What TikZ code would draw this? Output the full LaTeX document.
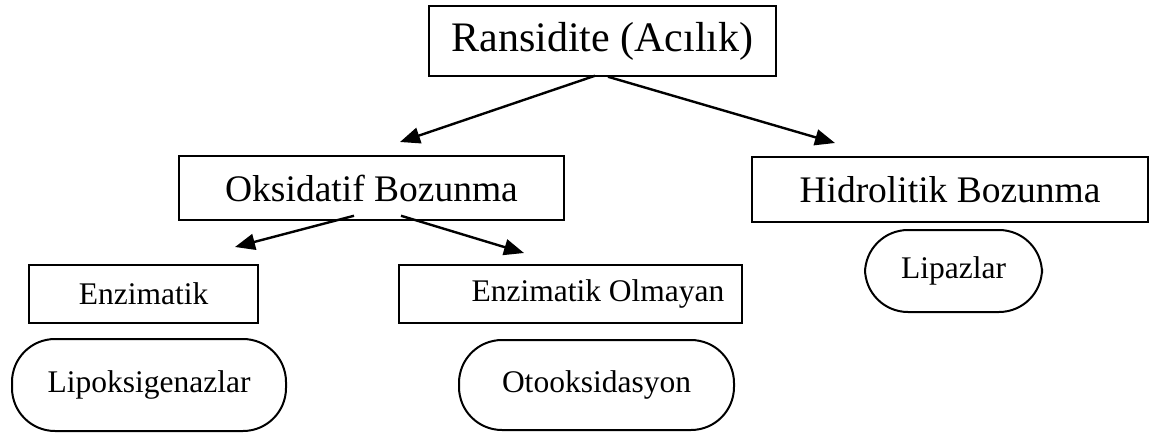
\documentclass[tikz,border=0pt]{standalone}
\usepackage{fontspec}
\setmainfont{Liberation Serif}
\usetikzlibrary{arrows.meta,calc}
\begin{document}
\begin{tikzpicture}[x=1pt,y=-1pt,
  rbox/.style={draw, line width=1.5pt, inner sep=0pt, align=center},
  pill/.style={draw, line width=2pt, inner sep=0pt, rounded corners=43pt, align=center},
  fbig/.style={font=\fontsize{42pt}{48pt}\selectfont},
  fmid/.style={font=\fontsize{37.5pt}{43pt}\selectfont},
  fsmall/.style={font=\fontsize{31.5pt}{37pt}\selectfont},
  arr/.style={line width=2.4pt, -{Triangle[length=20pt,width=16pt]}}]
\useasboundingbox (0,0) rectangle (1154,432);

\node[rbox, fbig, minimum width=347pt, minimum height=70pt] (top) at (602.5,41) {Ransidite (Acılık)};
\node[rbox, fmid, minimum width=385pt, minimum height=64pt] (oks) at (371.5,188) {Oksidatif Bozunma};
\node[rbox, fmid, minimum width=396pt, minimum height=65pt] (hid) at (950,189.5) {Hidrolitik Bozunma};
\node[rbox, fsmall, minimum width=229pt, minimum height=58pt] (enz) at (143.5,294) {Enzimatik};
\node[rbox, fsmall, minimum width=343pt, minimum height=58pt] (enzo) at (570.5,294) {\hspace*{55pt}Enzimatik Olmayan};
\node[pill, fsmall, minimum width=274pt, minimum height=92pt] (lipo) at (149,385) {Lipoksigenazlar};
\node[pill, fsmall, minimum width=275pt, minimum height=90pt] (oto) at (596.5,385) {Otooksidasyon};
\node[pill, fsmall, minimum width=177pt, minimum height=82pt] (lipa) at (953.5,271) {Lipazlar};

\coordinate (a1s) at ($(top.south)+(-7.5,-1)$);
\coordinate (a2s) at ($(top.south)+(5.5,0)$);
\coordinate (a1e) at (400,142);
\coordinate (a2e) at (835,143);
\coordinate (a3s) at ($(oks.south)+(-17.5,-5)$);
\coordinate (a4s) at ($(oks.south)+(29.5,-5)$);
\coordinate (a3e) at (235,247);
\coordinate (a4e) at (524,253);

\draw[arr] (a1s) -- (a1e);
\draw[arr] (a2s) -- (a2e);
\draw[arr] (a3s) -- (a3e);
\draw[arr] (a4s) -- (a4e);
\end{tikzpicture}
\end{document}
